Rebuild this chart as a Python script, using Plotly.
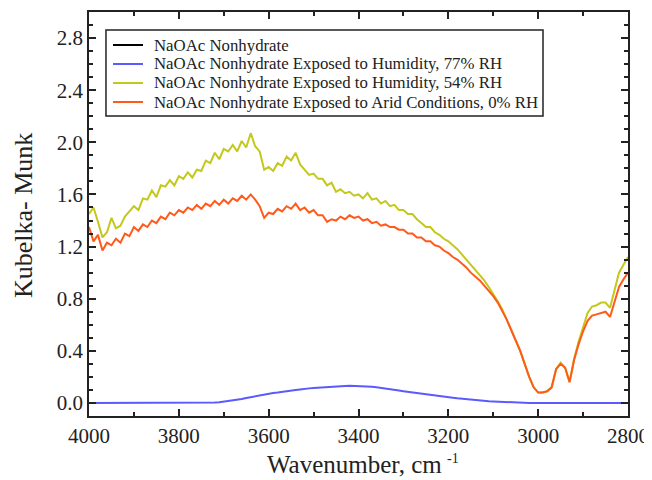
import numpy as np
import plotly.graph_objects as go

wavenumber = list(range(4000, 2799, -10))

# black reference trace is not visible in the picture (legend entry only)
nonhydrate = [None] * 121

rh77 = [0.0] * 28 + [
    0.004, 0.006, 0.010, 0.014, 0.020, 0.024, 0.030, 0.038, 0.045, 0.052,
    0.060, 0.064, 0.070, 0.076, 0.080, 0.086, 0.090, 0.095, 0.100, 0.104,
    0.110, 0.112, 0.115, 0.118, 0.120, 0.123, 0.125, 0.128, 0.130, 0.131,
    0.132, 0.131, 0.130, 0.129, 0.127, 0.124, 0.120, 0.116, 0.110, 0.106,
    0.100, 0.095, 0.090, 0.085, 0.080, 0.075, 0.070, 0.065, 0.060, 0.055,
    0.052, 0.048, 0.044, 0.040, 0.036, 0.032, 0.028, 0.025, 0.022, 0.019,
    0.016, 0.013, 0.011, 0.009, 0.007, 0.005, 0.004, 0.003, 0.002, 0.001,
] + [0.0] * 23

rh54 = [
    1.45, 1.50, 1.39, 1.27, 1.31, 1.42, 1.34, 1.36, 1.43, 1.47,
    1.51, 1.48, 1.57, 1.56, 1.63, 1.58, 1.67, 1.66, 1.71, 1.67,
    1.74, 1.72, 1.77, 1.73, 1.79, 1.78, 1.86, 1.84, 1.92, 1.87,
    1.95, 1.93, 1.98, 1.93, 2.01, 1.96, 2.07, 1.97, 1.93, 1.79,
    1.81, 1.78, 1.84, 1.82, 1.89, 1.86, 1.92, 1.83, 1.79, 1.75,
    1.76, 1.72, 1.72, 1.67, 1.69, 1.62, 1.64, 1.61, 1.62, 1.59,
    1.60, 1.57, 1.61, 1.56, 1.57, 1.53, 1.55, 1.51, 1.52, 1.48,
    1.48, 1.45, 1.45, 1.41, 1.38, 1.35, 1.35, 1.31, 1.29, 1.26,
    1.24, 1.21, 1.18, 1.14, 1.10, 1.06, 1.02, 0.98, 0.94, 0.89,
    0.84, 0.78, 0.72, 0.64, 0.56, 0.48, 0.40, 0.30, 0.20, 0.12,
    0.08, 0.08, 0.09, 0.12, 0.26, 0.31, 0.27, 0.16, 0.34, 0.47,
    0.58, 0.69, 0.74, 0.75, 0.77, 0.77, 0.73, 0.87, 1.00, 1.06,
    1.12,
]

rh0 = [
    1.35, 1.24, 1.29, 1.17, 1.23, 1.21, 1.26, 1.23, 1.30, 1.28,
    1.35, 1.32, 1.37, 1.35, 1.40, 1.38, 1.43, 1.41, 1.46, 1.44,
    1.48, 1.46, 1.50, 1.48, 1.52, 1.49, 1.53, 1.51, 1.55, 1.52,
    1.56, 1.53, 1.57, 1.55, 1.59, 1.56, 1.60, 1.56, 1.51, 1.42,
    1.46, 1.45, 1.49, 1.47, 1.51, 1.49, 1.53, 1.48, 1.50, 1.46,
    1.48, 1.44, 1.44, 1.39, 1.41, 1.40, 1.43, 1.41, 1.44, 1.42,
    1.43, 1.40, 1.41, 1.38, 1.39, 1.36, 1.37, 1.35, 1.35, 1.33,
    1.33, 1.30, 1.30, 1.27, 1.27, 1.24, 1.24, 1.21, 1.20, 1.17,
    1.15, 1.12, 1.10, 1.07, 1.04, 1.00, 0.97, 0.94, 0.90, 0.86,
    0.82, 0.77, 0.71, 0.64, 0.56, 0.48, 0.40, 0.30, 0.20, 0.12,
    0.08, 0.08, 0.09, 0.12, 0.26, 0.30, 0.27, 0.16, 0.33, 0.45,
    0.55, 0.63, 0.67, 0.68, 0.69, 0.70, 0.66, 0.78, 0.89, 0.95,
    1.00,
]

x_ticks = [4000, 3800, 3600, 3400, 3200, 3000, 2800]
y_ticks = [0.0, 0.4, 0.8, 1.2, 1.6, 2.0, 2.4, 2.8]

series_names = [
    "NaOAc Nonhydrate",
    "NaOAc Nonhydrate Exposed to Humidity, 77% RH",
    "NaOAc Nonhydrate Exposed to Humidity, 54% RH",
    "NaOAc Nonhydrate Exposed to Arid Conditions, 0% RH",
]
series_values = [nonhydrate, rh77, rh54, rh0]
series_colors = ["#000000", "#5a5aff", "#c3c81c", "#ff5a1a"]

fig = go.Figure()
for name, vals, col in zip(series_names, series_values, series_colors):
    fig.add_trace(go.Scatter(x=wavenumber, y=vals, mode="lines", name=name,
                             line=dict(color=col, width=2), showlegend=False))

font_family = "Liberation Serif, Times New Roman, serif"
ink = "#222"
axis_common = dict(
    showline=True, linecolor=ink, linewidth=1.5, mirror="ticks",
    ticks="inside", ticklen=7, tickwidth=1.5, tickcolor=ink,
    showgrid=False, zeroline=False, automargin=False,
    tickfont=dict(family=font_family, size=21, color=ink),
)

fig.update_xaxes(
    range=[4000, 2800], tickvals=x_ticks,
    minor=dict(ticks="inside", ticklen=4, tickwidth=1.5, tickcolor=ink, dtick=100, tick0=0),
    **axis_common,
)
fig.update_yaxes(
    range=[-0.1, 3.0], tickvals=y_ticks, tickformat=".1f",
    minor=dict(ticks="inside", ticklen=4, tickwidth=1.5, tickcolor=ink, dtick=0.1, tick0=0),
    **axis_common,
)

# axis titles placed like the reference (x title has a raised superscript)
fig.add_annotation(text="Kubelka- Munk", xref="paper", yref="paper", x=-0.1224, y=0.495,
                   xanchor="center", yanchor="middle", textangle=-90, showarrow=False,
                   font=dict(family=font_family, size=26, color=ink))
fig.add_annotation(text="Wavenumber, cm", xref="paper", yref="paper", x=0.4917, y=-0.1584,
                   xanchor="center", yanchor="bottom", showarrow=False,
                   font=dict(family=font_family, size=25, color=ink))
fig.add_annotation(text="-1", xref="paper", yref="paper", x=0.6755, y=-0.1064,
                   xanchor="center", yanchor="middle", showarrow=False,
                   font=dict(family=font_family, size=14, color=ink))

# legend box
fig.add_shape(type="rect", xref="paper", yref="paper", x0=0.0315, x1=0.8423, y0=0.7426, y1=0.9554,
              line=dict(color=ink, width=1.5), fillcolor="white", layer="above")
legend_rows_y = [0.9183, 0.8713, 0.8243, 0.7772]
for name, col, yy in zip(series_names, series_colors, legend_rows_y):
    fig.add_shape(type="line", xref="paper", yref="paper", x0=0.0445, x1=0.1002, y0=yy, y1=yy,
                  line=dict(color=col, width=2), layer="above")
    fig.add_annotation(text=name, xref="paper", yref="paper", x=0.1169, y=yy,
                       xanchor="left", yanchor="middle", showarrow=False,
                       font=dict(family=font_family, size=16.8, color=ink))

# page body adds an 8px offset; size the figure so the plot area lands where the reference has it
fig.update_layout(
    width=644, height=472,
    margin=dict(l=81, r=24, t=4, b=64),
    paper_bgcolor="white", plot_bgcolor="white",
    showlegend=False,
)

fig.write_html("out.html")
